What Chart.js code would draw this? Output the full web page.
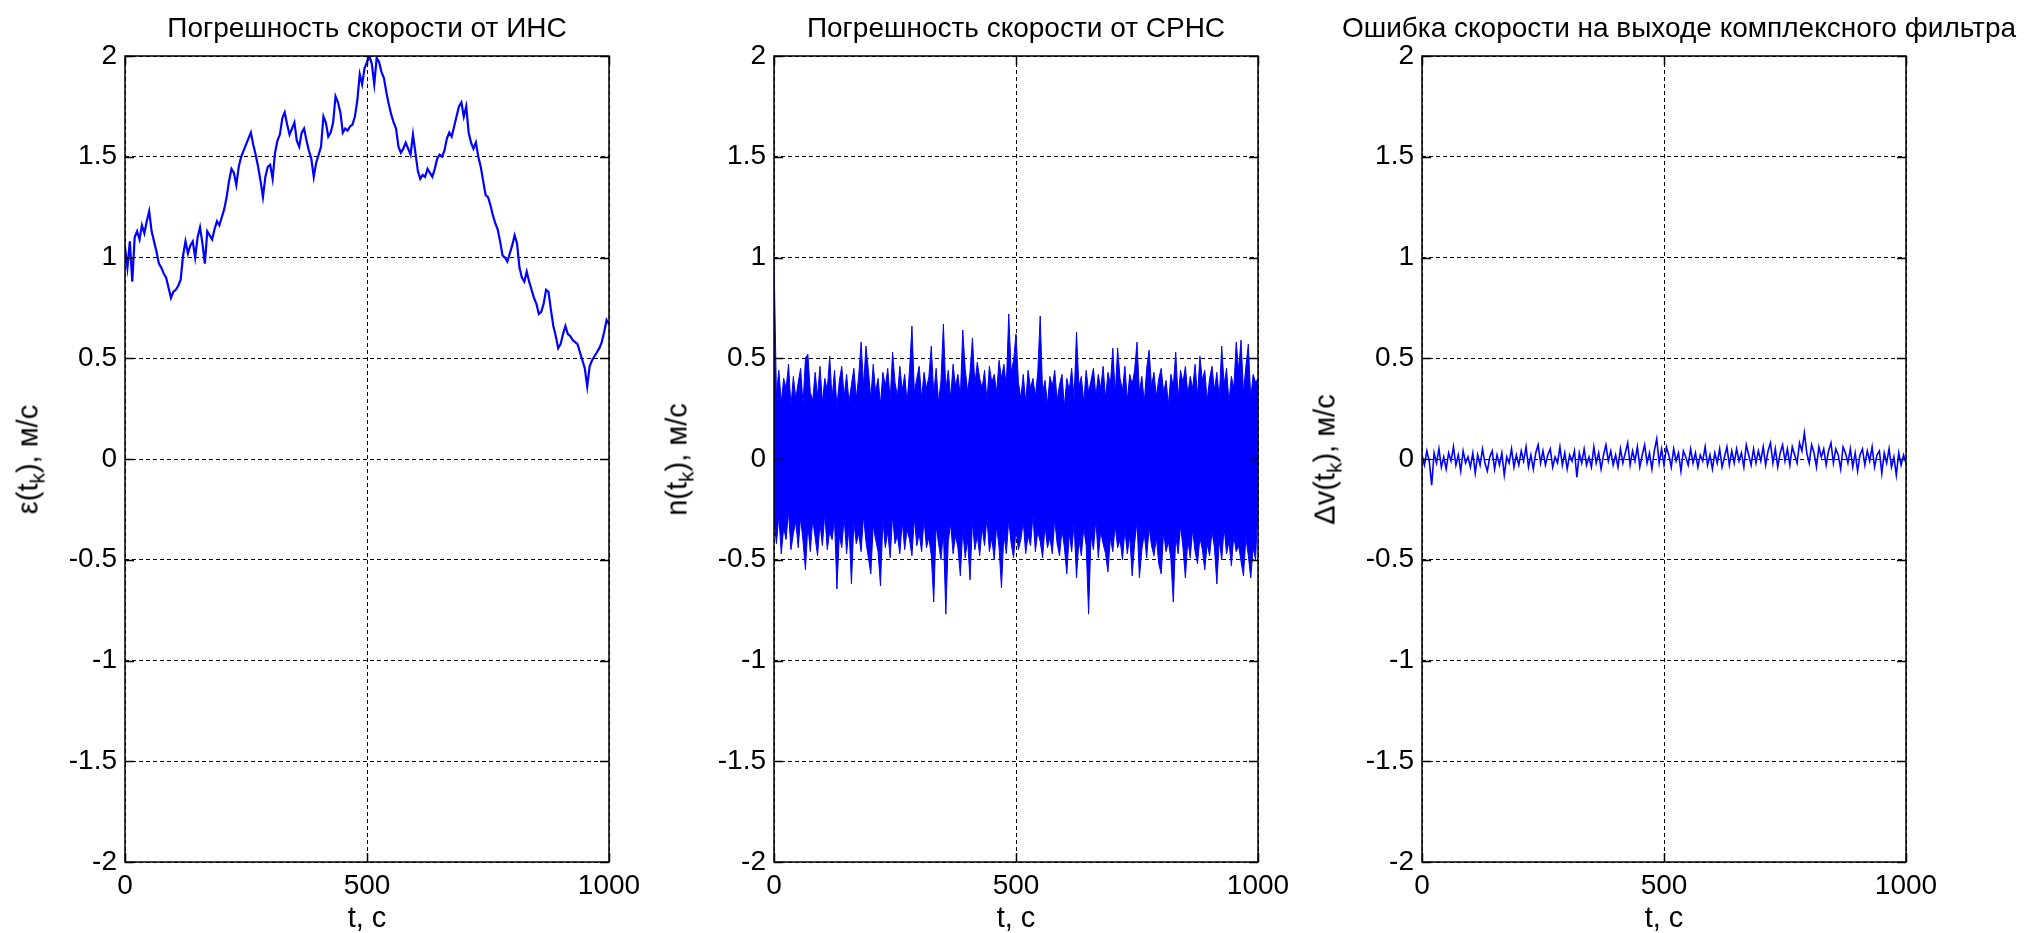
<!DOCTYPE html>
<html>
<head>
<meta charset="utf-8">
<script src="https://cdn.jsdelivr.net/npm/chart.js"></script>
<style>
  html, body { margin:0; padding:0; background:#fff; }
  #stage { position:relative; width:2038px; height:933px; overflow:hidden; background:#fff;
           font-family:"Liberation Sans", Arial, sans-serif; color:#000; }
  canvas { position:absolute; top:0; }
  .ttl { position:absolute; top:14px; font-size:28px; line-height:28px; white-space:nowrap; text-align:center; width:800px; }
  .xl { position:absolute; top:903px; font-size:29px; line-height:29px; white-space:nowrap; text-align:center; width:200px; }
  .yl { position:absolute; font-size:29px; line-height:29px; white-space:nowrap; text-align:center; width:300px; height:29px; transform:rotate(-90deg); }
  .yl sub { font-size:0.72em; vertical-align:-0.32em; line-height:0; }
</style>
</head>
<body>
<div id="stage"></div>
<script>
// ---------- data ----------
const TIME = [0,5,10,15,20,25,30,35,40,45,50,55,60,65,70,75,80,85,90,95,
100,105,110,115,120,125,130,135,140,145,150,155,160,165,170,175,180,185,190,195,
200,205,210,215,220,225,230,235,240,245,250,255,260,265,270,275,280,285,290,295,
300,305,310,315,320,325,330,335,340,345,350,355,360,365,370,375,380,385,390,395,
400,405,410,415,420,425,430,435,440,445,450,455,460,465,470,475,480,485,490,495,
500,505,510,515,520,525,530,535,540,545,550,555,560,565,570,575,580,585,590,595,
600,605,610,615,620,625,630,635,640,645,650,655,660,665,670,675,680,685,690,695,
700,705,710,715,720,725,730,735,740,745,750,755,760,765,770,775,780,785,790,795,
800,805,810,815,820,825,830,835,840,845,850,855,860,865,870,875,880,885,890,895,
900,905,910,915,920,925,930,935,940,945,950,955,960,965,970,975,980,985,990,995,
1000];

// INS velocity error (random walk)
const INS_ERR = [1.05,0.95,1.08,0.88,1.10,1.13,1.09,1.16,1.12,1.18,1.23,1.13,1.08,1.03,0.97,0.95,0.92,0.90,0.85,0.80,
0.83,0.84,0.86,0.89,1.01,1.08,1.02,1.06,1.08,1.00,1.10,1.15,1.07,0.97,1.13,1.11,1.09,1.14,1.18,1.16,
1.20,1.24,1.30,1.38,1.44,1.42,1.36,1.45,1.50,1.53,1.56,1.59,1.62,1.56,1.51,1.45,1.38,1.30,1.40,1.45,
1.46,1.39,1.52,1.58,1.61,1.69,1.72,1.66,1.61,1.64,1.67,1.58,1.55,1.62,1.64,1.58,1.53,1.49,1.40,1.47,
1.51,1.55,1.70,1.67,1.60,1.62,1.67,1.80,1.77,1.72,1.62,1.64,1.63,1.65,1.66,1.70,1.78,1.91,1.86,1.94,
1.97,2.00,1.96,1.86,1.99,1.97,1.92,1.89,1.82,1.76,1.71,1.67,1.64,1.55,1.52,1.54,1.57,1.54,1.51,1.61,
1.52,1.43,1.39,1.41,1.40,1.44,1.42,1.40,1.44,1.49,1.51,1.50,1.53,1.59,1.62,1.60,1.65,1.70,1.75,1.77,
1.70,1.75,1.62,1.57,1.54,1.57,1.50,1.45,1.38,1.31,1.30,1.26,1.21,1.17,1.14,1.08,1.01,1.00,0.98,1.02,
1.06,1.11,1.07,0.95,0.90,0.88,0.93,0.88,0.84,0.80,0.77,0.72,0.73,0.77,0.84,0.83,0.74,0.66,0.61,0.55,
0.57,0.62,0.66,0.62,0.61,0.59,0.58,0.57,0.53,0.49,0.45,0.36,0.46,0.49,0.51,0.53,0.55,0.58,0.63,0.69,
0.67];

// SRNS noise: upper and lower envelope of the dense noise band
const SRNS_UPPER = [1.00,0.32,0.44,0.28,0.40,0.35,0.47,0.26,0.41,0.30,0.38,0.45,0.27,0.50,0.52,0.33,0.29,0.43,0.31,0.46,
0.28,0.40,0.34,0.51,0.30,0.44,0.26,0.39,0.46,0.31,0.42,0.28,0.37,0.45,0.30,0.41,0.58,0.36,0.56,0.44,
0.30,0.47,0.33,0.40,0.27,0.43,0.36,0.45,0.29,0.53,0.38,0.31,0.46,0.34,0.42,0.28,0.44,0.66,0.33,0.40,
0.46,0.30,0.43,0.35,0.41,0.56,0.32,0.45,0.28,0.39,0.67,0.34,0.44,0.30,0.47,0.36,0.42,0.31,0.64,0.45,
0.33,0.43,0.60,0.37,0.48,0.40,0.35,0.44,0.29,0.46,0.38,0.42,0.33,0.49,0.40,0.47,0.36,0.72,0.43,0.49,
0.62,0.38,0.30,0.42,0.28,0.44,0.35,0.40,0.31,0.43,0.71,0.33,0.39,0.27,0.41,0.36,0.44,0.29,0.37,0.42,
0.26,0.40,0.34,0.45,0.30,0.63,0.36,0.41,0.28,0.44,0.33,0.39,0.45,0.31,0.42,0.35,0.46,0.30,0.43,0.37,
0.55,0.32,0.55,0.40,0.34,0.46,0.29,0.42,0.37,0.44,0.58,0.33,0.41,0.28,0.45,0.54,0.36,0.43,0.31,0.40,
0.45,0.33,0.39,0.27,0.42,0.36,0.53,0.30,0.44,0.38,0.46,0.32,0.41,0.35,0.47,0.31,0.51,0.39,0.44,0.29,
0.40,0.46,0.34,0.43,0.30,0.56,0.37,0.45,0.28,0.41,0.35,0.58,0.44,0.59,0.33,0.46,0.57,0.30,0.42,0.38,
0.40];
const SRNS_LOWER = [-0.30,-0.42,-0.28,-0.47,-0.34,-0.40,-0.26,-0.45,-0.37,-0.31,-0.44,-0.29,-0.41,-0.55,-0.33,-0.46,-0.30,-0.39,-0.48,-0.32,
-0.43,-0.27,-0.45,-0.36,-0.40,-0.30,-0.645,-0.38,-0.44,-0.29,-0.47,-0.34,-0.62,-0.31,-0.42,-0.37,-0.46,-0.28,-0.41,-0.49,
-0.57,-0.33,-0.40,-0.46,-0.63,-0.30,-0.44,-0.36,-0.49,-0.28,-0.42,-0.38,-0.47,-0.31,-0.45,-0.35,-0.40,-0.48,-0.29,-0.43,
-0.37,-0.46,-0.30,-0.44,-0.39,-0.48,-0.71,-0.33,-0.42,-0.50,-0.36,-0.77,-0.41,-0.32,-0.47,-0.38,-0.44,-0.58,-0.35,-0.49,
-0.40,-0.60,-0.31,-0.45,-0.38,-0.48,-0.34,-0.43,-0.29,-0.46,-0.39,-0.50,-0.33,-0.44,-0.64,-0.37,-0.47,-0.30,-0.42,-0.49,
-0.35,-0.45,-0.40,-0.31,-0.47,-0.38,-0.43,-0.28,-0.46,-0.36,-0.41,-0.49,-0.33,-0.44,-0.39,-0.47,-0.30,-0.42,-0.48,-0.35,
-0.44,-0.57,-0.37,-0.46,-0.32,-0.59,-0.40,-0.48,-0.34,-0.43,-0.77,-0.38,-0.45,-0.30,-0.49,-0.36,-0.42,-0.47,-0.56,-0.39,
-0.46,-0.33,-0.44,-0.40,-0.50,-0.35,-0.47,-0.38,-0.58,-0.42,-0.31,-0.59,-0.45,-0.37,-0.49,-0.34,-0.43,-0.48,-0.39,-0.52,
-0.57,-0.36,-0.46,-0.41,-0.50,-0.71,-0.38,-0.47,-0.33,-0.44,-0.59,-0.40,-0.49,-0.35,-0.46,-0.52,-0.39,-0.45,-0.55,-0.42,
-0.48,-0.36,-0.44,-0.62,-0.40,-0.50,-0.34,-0.47,-0.41,-0.53,-0.38,-0.46,-0.43,-0.51,-0.58,-0.39,-0.48,-0.59,-0.44,-0.50,
-0.22];

// Complex filter output error
const FILTER_ERR = [0.02,-0.03,0.04,-0.01,-0.13,0.03,-0.02,0.05,-0.04,0.01,-0.05,0.03,-0.01,0.06,-0.03,0.02,-0.06,0.04,-0.02,0.01,
-0.04,0.03,-0.07,0.02,-0.03,0.05,-0.02,-0.06,0.01,0.04,-0.05,0.02,-0.03,0.03,-0.08,0.01,-0.02,0.05,-0.04,0.02,
-0.03,0.04,-0.01,0.06,-0.04,0.02,-0.05,0.03,0.07,-0.02,0.04,-0.03,0.02,0.05,-0.04,0.01,-0.02,0.06,-0.03,0.03,
-0.05,0.02,-0.01,0.04,-0.09,0.03,-0.02,0.05,-0.03,0.01,-0.04,0.06,-0.02,0.03,-0.05,0.02,0.07,-0.01,0.04,-0.03,
0.02,-0.04,0.05,-0.02,0.03,0.08,-0.03,0.04,-0.01,0.06,-0.04,0.02,0.07,-0.02,0.03,-0.05,0.04,0.10,-0.02,0.05,
-0.03,0.06,0.02,-0.04,0.05,-0.01,0.03,-0.06,0.04,0.01,-0.03,0.05,-0.02,0.03,-0.04,0.02,-0.01,0.06,-0.03,0.02,
-0.05,0.03,-0.02,0.05,-0.04,0.01,0.06,-0.03,0.04,-0.02,0.05,-0.01,0.03,-0.04,0.07,0.02,-0.03,0.05,-0.02,0.04,
-0.01,0.06,-0.03,0.04,0.08,-0.02,0.05,-0.04,0.03,0.07,-0.01,0.05,-0.03,0.06,0.02,-0.02,0.08,0.04,0.13,0.03,
-0.02,0.07,0.03,-0.04,0.06,0.01,0.05,-0.03,0.04,0.08,-0.02,0.05,0.02,-0.05,0.06,0.03,-0.02,0.05,-0.04,0.03,
-0.06,0.02,0.05,-0.03,0.04,-0.01,0.06,-0.04,0.02,0.04,-0.07,0.03,-0.02,0.05,-0.04,0.01,-0.08,0.03,-0.03,0.02,
-0.02];

// tick labels and texts
const X_TICKS = [0, 500, 1000];
const X_TICK_LABELS = ['0', '500', '1000'];
const Y_TICKS = [-2, -1.5, -1, -0.5, 0, 0.5, 1, 1.5, 2];
const Y_TICK_LABELS = ['-2', '-1.5', '-1', '-0.5', '0', '0.5', '1', '1.5', '2'];
const TITLES = ['Погрешность скорости от ИНС', 'Погрешность скорости от СРНС', 'Ошибка скорости на выходе комплексного фильтра'];
const X_LABEL = 't, с';
const Y_LABELS = [['ε(t', 'k', '), м/с'], ['n(t', 'k', '), м/с'], ['Δv(t', 'k', '), м/с']];

// ---------- layout ----------
const PLOT_LEFT = [125, 774, 1422];
const TITLE_SHIFT = [0, 0, 15];
const PLOT_W = 484, PLOT_TOP = 56, PLOT_BOTTOM = 862, H = 933;
const AXIS_W = 100, RIGHT_PAD = 50;
const FONT = { family: '"Liberation Sans", Arial, sans-serif', size: 28 };
const BLUE = '#0000ff';

const pts = (vals) => vals.map((v, i) => ({ x: TIME[i], y: v }));

const boxPlugin = {
  id: 'box',
  afterDraw(chart) {
    const { ctx, chartArea: a, scales } = chart;
    const T = 9;
    ctx.save();
    ctx.setLineDash([]);
    ctx.strokeStyle = '#000';
    ctx.lineWidth = 1.5;
    ctx.beginPath();
    Y_TICKS.forEach(v => {
      const y = Math.round(scales.y.getPixelForValue(v)) + 0.5;
      ctx.moveTo(a.left, y); ctx.lineTo(a.left + T, y);
      ctx.moveTo(a.right, y); ctx.lineTo(a.right - T, y);
    });
    X_TICKS.forEach(v => {
      const x = Math.round(scales.x.getPixelForValue(v)) + 0.5;
      ctx.moveTo(x, a.bottom); ctx.lineTo(x, a.bottom - T);
      ctx.moveTo(x, a.top); ctx.lineTo(x, a.top + T);
    });
    ctx.stroke();
    ctx.strokeRect(a.left, a.top, a.right - a.left, a.bottom - a.top);
    ctx.restore();
  }
};

function makeDatasets(i) {
  if (i === 0) {
    return [{ data: pts(INS_ERR), borderColor: BLUE, borderWidth: 2.2, fill: false }];
  }
  if (i === 1) {
    return [
      { data: pts(SRNS_UPPER), borderColor: BLUE, borderWidth: 1, backgroundColor: BLUE, fill: '+1' },
      { data: pts(SRNS_LOWER), borderColor: BLUE, borderWidth: 1, fill: false }
    ];
  }
  return [{ data: pts(FILTER_ERR), borderColor: BLUE, borderWidth: 1.6, fill: false }];
}

const stage = document.getElementById('stage');
for (let i = 0; i < 3; i++) {
  const cv = document.createElement('canvas');
  const cw = AXIS_W + PLOT_W + RIGHT_PAD;
  cv.width = cw; cv.height = H;
  cv.style.left = (PLOT_LEFT[i] - AXIS_W) + 'px';
  cv.style.width = cw + 'px'; cv.style.height = H + 'px';
  stage.appendChild(cv);

  new Chart(cv.getContext('2d'), {
    type: 'line',
    data: { datasets: makeDatasets(i) },
    options: {
      responsive: false, animation: false, devicePixelRatio: 1,
      layout: { padding: { left: 0, right: RIGHT_PAD, top: PLOT_TOP, bottom: 0 } },
      plugins: { legend: { display: false }, tooltip: { enabled: false }, title: { display: false } },
      elements: { point: { radius: 0 }, line: { tension: 0 } },
      scales: {
        x: {
          type: 'linear', min: 0, max: 1000,
          afterBuildTicks: s => { s.ticks = X_TICKS.map(v => ({ value: v })); },
          afterFit: s => { s.height = H - PLOT_BOTTOM; },
          ticks: { font: FONT, color: '#000', padding: 7, maxRotation: 0, autoSkip: false,
                   callback: v => X_TICK_LABELS[X_TICKS.indexOf(v)] },
          grid: { color: '#000', lineWidth: 1, drawTicks: false },
          border: { display: false, dash: [4, 3] }
        },
        y: {
          type: 'linear', min: -2, max: 2,
          afterBuildTicks: s => { s.ticks = Y_TICKS.map(v => ({ value: v })); },
          afterFit: s => { s.width = AXIS_W; },
          ticks: { font: FONT, color: '#000', padding: 8, autoSkip: false,
                   callback: v => Y_TICK_LABELS[Y_TICKS.indexOf(v)] },
          grid: { color: '#000', lineWidth: 1, drawTicks: false },
          border: { display: false, dash: [4, 3] }
        }
      }
    },
    plugins: [boxPlugin]
  });

  const cx = PLOT_LEFT[i] + PLOT_W / 2;
  const t = document.createElement('div');
  t.className = 'ttl'; t.textContent = TITLES[i];
  t.style.left = (cx - 400 + TITLE_SHIFT[i]) + 'px';
  stage.appendChild(t);

  const xl = document.createElement('div');
  xl.className = 'xl'; xl.textContent = X_LABEL;
  xl.style.left = (cx - 100) + 'px';
  stage.appendChild(xl);

  const yl = document.createElement('div');
  yl.className = 'yl';
  const [a, sub, b] = Y_LABELS[i];
  yl.appendChild(document.createTextNode(a));
  const s = document.createElement('sub'); s.textContent = sub; yl.appendChild(s);
  yl.appendChild(document.createTextNode(b));
  const ycx = PLOT_LEFT[i] - 97, ycy = (PLOT_TOP + PLOT_BOTTOM) / 2;
  yl.style.left = (ycx - 150) + 'px';
  yl.style.top = (ycy - 14.5) + 'px';
  stage.appendChild(yl);
}
</script>
</body>
</html>
